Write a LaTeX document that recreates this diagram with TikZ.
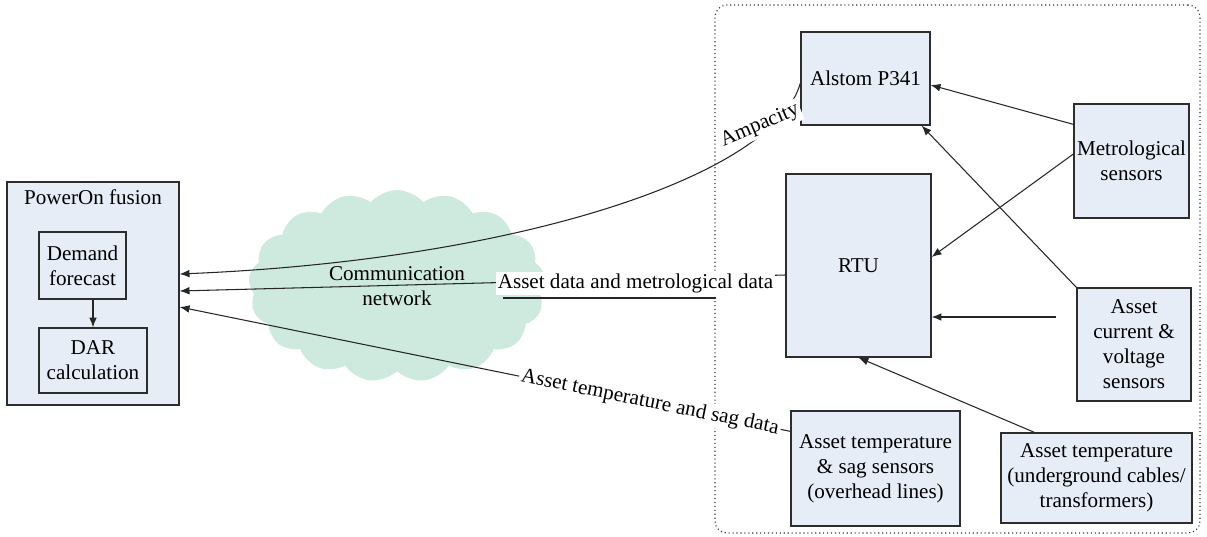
\documentclass[tikz,border=0pt]{standalone}
\usepackage{fontspec}
\newfontfamily\diagserif{LiberationSerif}[Extension=.ttf, UprightFont=*-Regular, BoldFont=*-Bold]
\usetikzlibrary{arrows.meta,calc,shapes.symbols}
\newlength\pxu \setlength\pxu{0.025cm}
\newcommand\diagfont{\diagserif\fontsize{15}{17.8}\selectfont}
\definecolor{boxfill}{RGB}{230,237,247}
\definecolor{bordercol}{RGB}{45,45,45}
\definecolor{cloudcol}{RGB}{206,233,222}
\begin{document}
\begin{tikzpicture}[x=0.025cm,y=-0.025cm,
  box/.style={draw=bordercol, line width=0.9pt, fill=boxfill, align=center, inner sep=0pt, font=\diagfont},
  arr/.style={draw=black!85, line width=0.75pt, -{Latex[length=7pt,width=5.5pt]}},
  lbl/.style={fill=white, inner sep=1.5pt, font=\diagfont},
  grp/.style={draw=black!80, dotted, line width=0.8pt, rounded corners=12\pxu, inner sep=0pt}]
\useasboundingbox (0,0) rectangle (1207,537);

% group frame and cloud
\node[grp, minimum width=485\pxu, minimum height=528\pxu] (grp) at (957.5,269) {};
\node[cloud, cloud puffs=17, cloud puff arc=100, aspect=1.55, fill=cloudcol,
      minimum width=297\pxu, minimum height=192\pxu, inner sep=0pt, align=center,
      font=\diagfont] (net) at (397,286) {Communication\\network};

% PowerOn fusion
\node[box, minimum width=172\pxu, minimum height=223\pxu,
      label={[font=\diagfont, inner sep=0pt, anchor=north, yshift=-0.2cm]north:PowerOn fusion}] (pof) at (93,293.5) {};
\node[box, minimum width=87\pxu, minimum height=67\pxu] (dem) at (82.5,265.5) {Demand\\forecast};
\node[box, minimum width=108\pxu, minimum height=65\pxu] (dar) at (93,360.5) {DAR\\calculation};

% right side
\node[box, minimum width=129\pxu, minimum height=93\pxu] (alstom) at (865.5,78.5) {Alstom P341};
\node[box, minimum width=145\pxu, minimum height=183\pxu] (rtu) at (858.5,265.5) {RTU};
\node[box, minimum width=115\pxu, minimum height=114\pxu] (met) at (1131.5,161) {Metrological\\sensors};
\node[box, minimum width=114\pxu, minimum height=113\pxu] (cur) at (1134,344.5) {Asset\\current \&\\voltage\\sensors};
\node[box, minimum width=169\pxu, minimum height=115\pxu] (sag) at (875.5,468.5) {Asset temperature\\\& sag sensors\\(overhead lines)};
\node[box, minimum width=191\pxu, minimum height=90\pxu] (und) at (1096.5,478) {Asset temperature\\(underground cables/\\transformers)};

\coordinate (curL) at (1056,317);
\coordinate (u1) at (503,298);
\coordinate (u2) at (716,298);

% connectors
\draw[arr] (dem.south -| dar.north) -- (dar.north);
\draw[arr] ($(met.north west)+(0,21)$) -- ($(alstom.east)+(0,6.5)$);
\draw[arr] ($(met.west)+(0,-7)$) -- ($(rtu.east)+(0,-8.5)$);
\draw[arr] (cur.north west) -- ($(alstom.south east)+(-9,0)$);
\draw[arr] (curL) -- (rtu.east |- curL);
\draw[arr] ($(und.north west)+(34,0)$) -- (rtu.south);

\draw[arr] ($(alstom.west)+(0,4.5)$) .. controls (775,175) and (520,260) .. ($(pof.east)+(0,-19.5)$)
  node[lbl, pos=0.15, xshift=-0.35cm, yshift=-0.05cm, rotate=23] {Ampacity};
\draw[arr] ($(rtu.west)+(0,9.5)$) -- ($(pof.east)+(0,-2.5)$)
  node[lbl, pos=0.2475, yshift=-0.12cm] {Asset data and metrological data};
\draw[arr] ($(sag.north west)+(0,21)$) -- ($(pof.east)+(0,13.5)$)
  node[lbl, pos=0.23, sloped] {Asset temperature and sag data};
\draw[black!85, line width=0.75pt] (u1) -- (u2);
\end{tikzpicture}
\end{document}
